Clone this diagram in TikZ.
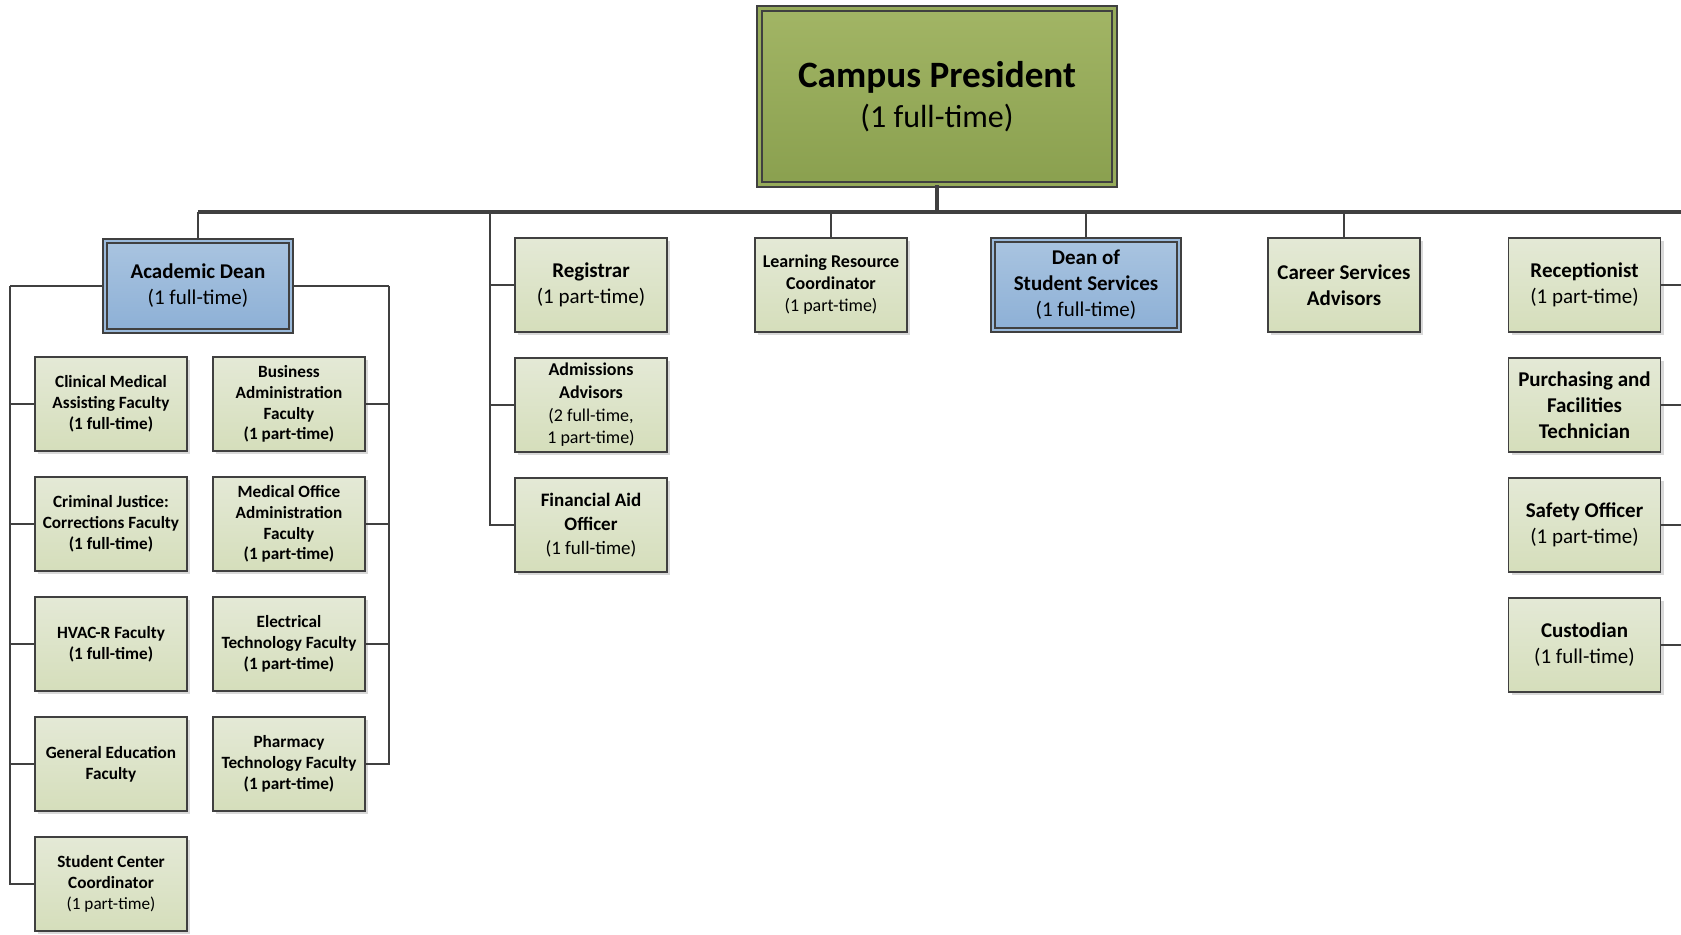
\documentclass[tikz,border=0pt]{standalone}
\usepackage{fontspec}
\setmainfont{Carlito}
\usetikzlibrary{shadows}
\definecolor{edge}{HTML}{404040}
\definecolor{paletop}{HTML}{E4E9D6}
\definecolor{palebot}{HTML}{D5DEBB}
\definecolor{bluetop}{HTML}{A9C4E0}
\definecolor{bluebot}{HTML}{8DB0D6}
\definecolor{bluemid}{HTML}{9BBADB}
\definecolor{olivetop}{HTML}{A2B565}
\definecolor{olivebot}{HTML}{8AA04F}
\definecolor{olivemid}{HTML}{96AB5A}
\tikzset{
  unit/.style={draw=edge,line width=0.9pt,top color=paletop,bottom color=palebot,
    minimum width=76pt,minimum height=47pt,inner sep=0pt,align=center,
    drop shadow={shadow xshift=1.5pt,shadow yshift=-1.5pt,opacity=0.25,fill=black!60}},
  fac/.style={unit,font=\fontsize{8.6}{10.4}\selectfont\bfseries},
  std/.style={unit,font=\fontsize{10.5}{13}\selectfont},
  dean/.style={std,top color=bluetop,bottom color=bluebot,double=bluemid,
    double distance=1.4pt,minimum width=93pt,minimum height=45pt},
  head/.style={unit,top color=olivetop,bottom color=olivebot,double=olivemid,
    double distance=1.4pt,minimum width=177.5pt,minimum height=88pt,
    font=\fontsize{16}{20}\selectfont},
  link/.style={draw=edge,line width=1.2pt},
  trunk/.style={draw=edge,line width=1.6pt}
}

\begin{document}
\begin{tikzpicture}[x=0.5pt,y=-0.5pt]
      \useasboundingbox (0,0) rectangle (1681,934);

      \node[head] (pres) at (937,96.5) {{\bfseries\fontsize{18.6}{20}\selectfont Campus President}\\(1 full-time)};

      \node[dean] (acad) at (198,286) {\textbf{Academic Dean}\\(1 full-time)};
      \node[fac] (f1) at (111,404) {Clinical Medical\\Assisting Faculty\\(1 full-time)};
      \node[fac] (f2) at (289,404) {Business\\Administration\\Faculty\\(1 part-time)};
      \node[fac] (f3) at (111,524) {Criminal Justice:\\Corrections Faculty\\(1 full-time)};
      \node[fac] (f4) at (289,524) {Medical Office\\Administration\\Faculty\\(1 part-time)};
      \node[fac] (f5) at (111,644) {HVAC-R Faculty\\(1 full-time)};
      \node[fac] (f6) at (289,644) {Electrical\\Technology Faculty\\(1 part-time)};
      \node[fac] (f7) at (111,764) {General Education\\Faculty};
      \node[fac] (f8) at (289,764) {Pharmacy\\Technology Faculty\\(1 part-time)};
      \node[fac] (f9) at (111,884) {Student Center\\Coordinator\\\mdseries (1 part-time)};

      \node[std] (reg) at (591,285) {\textbf{Registrar}\\(1 part-time)};
      \node[std,font=\fontsize{9}{11.3}\selectfont] (adm) at (591,405) {\textbf{Admissions}\\\textbf{Advisors}\\(2 full-time,\\1 part-time)};
      \node[std,font=\fontsize{9.5}{12}\selectfont] (fin) at (591,525) {\textbf{Financial Aid}\\\textbf{Officer}\\(1 full-time)};
      \node[std,font=\fontsize{9}{11}\selectfont] (lrc) at (831,285) {\textbf{Learning Resource}\\\textbf{Coordinator}\\(1 part-time)};
      \node[dean] (dss) at (1086,285) {\textbf{Dean of}\\\textbf{Student Services}\\(1 full-time)};
      \node[std] (csa) at (1344,285) {\textbf{Career Services}\\\textbf{Advisors}};
      \node[std] (rec) at (1584.5,285) {\textbf{Receptionist}\\(1 part-time)};
      \node[std] (pur) at (1584.5,405) {\textbf{Purchasing and}\\\textbf{Facilities}\\\textbf{Technician}};
      \node[std] (saf) at (1584.5,525) {\textbf{Safety Officer}\\(1 part-time)};
      \node[std] (cus) at (1584.5,645) {\textbf{Custodian}\\(1 full-time)};

      \coordinate (tl) at (198,212);
      \coordinate (tr) at (1681,212);
      \coordinate (mid) at (490,212);
      \coordinate (al) at (10,286);
      \coordinate (ar) at (389,286);
      \coordinate (rr) at (1681,285);

\draw[trunk] (pres.south) -- (pres.south |- tl);
\draw[trunk] (tl) -- (tr);
\foreach \b in {acad,lrc,dss,csa}
  \draw[link] (\b.north) -- (\b.north |- tl);
\foreach \b in {reg,adm,fin}
  \draw[link] (mid) |- (\b.west);
\draw[link] (acad.west) -- (al);
\foreach \b in {f1,f3,f5,f7,f9}
  \draw[link] (al) |- (\b.west);
\draw[link] (acad.east) -- (ar);
\foreach \b in {f2,f4,f6,f8}
  \draw[link] (ar) |- (\b.east);
\foreach \b in {rec,pur,saf,cus}
  \draw[link] (\b.east) -- (\b.east -| rr);
    \end{tikzpicture}
\end{document}
